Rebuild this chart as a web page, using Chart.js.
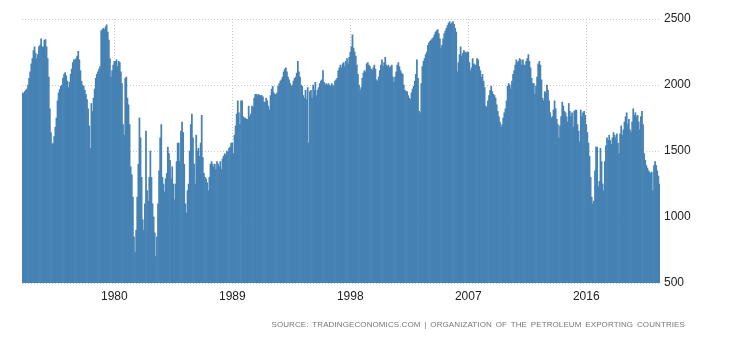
<!DOCTYPE html>
<html>
<head>
<meta charset="utf-8">
<script src="https://cdn.jsdelivr.net/npm/chart.js@4"></script>
<style>
  body { margin: 0; background: #fff; }
  #wrap { position: relative; width: 730px; height: 340px; }
  #source {
    position: absolute;
    right: 45px;
    top: 320px;
    font: 8px "Liberation Sans", Arial, sans-serif;
    color: #777;
    letter-spacing: 0.1px;
    word-spacing: 1.5px;
    white-space: pre;
  }
</style>
</head>
<body>
<div id="wrap">
  <canvas id="chart" width="730" height="340"></canvas>
  <div id="source">SOURCE: TRADINGECONOMICS.COM | ORGANIZATION OF THE PETROLEUM EXPORTING COUNTRIES</div>
</div>
<script>
/* ================================
   Data (monthly, Jan 1973 - Aug 2021)
================================ */
const START_YEAR = 1973;
const tickYears = [1980, 1989, 1998, 2007, 2016];
const yTicks = [500, 1000, 1500, 2000, 2500];

const output1970s = [
  1940, 1935, 1950, 1960, 1970, 2000, 2050, 2100, 2160, 2200, 2260, 2290,
  2240, 2200, 2230, 2290, 2300, 2350, 2290, 2290, 2340, 2345, 2290, 2200,
  2060, 1820, 1640, 1550, 1560, 1610, 1680, 1750, 1880, 1940, 1965, 1990,
  2000, 2050, 2080, 2095, 2070, 2030, 1980, 2020, 2080, 2120, 2170, 2190,
  2190, 2200, 2220, 2255, 2190, 2110, 2030, 2000, 1990, 1960, 1930, 1890,
  1820, 1690, 1520, 1860, 1800, 1900, 1970, 2050, 2080, 2100, 2120, 2140,
  2410, 2420, 2430, 2420, 2440, 2455, 2400, 2340, 2200, 2060, 2110, 2150
];

const output1980s = [
  2180, 2180, 2190, 2140, 2180, 2170, 2100, 2010, 1700, 1620, 2050, 2060,
  1900, 1850, 1700, 1380, 1320, 1150, 850, 730, 900, 1150, 1400, 1750,
  1600, 1300, 980, 900, 1100, 1650, 1200, 1120, 1300, 1500, 1300, 1100,
  1000, 880, 700, 850, 1100, 1350, 1600, 1700, 1300, 1250, 1190, 1290,
  1330, 1530, 1480, 1430, 1290, 1380, 1250, 1130, 1250, 1420, 1560, 1560,
  1420, 1650, 1720, 1640, 1400, 1100, 1030, 1200, 1250, 1500, 1700, 1780,
  1600, 1400, 1250, 1620, 1500, 1520, 1460, 1560, 1770, 1450, 1330, 1300,
  1290, 1260, 1200, 1300, 1400, 1420, 1400, 1380, 1400, 1360, 1420, 1400,
  1380, 1420, 1360, 1440, 1460, 1480, 1470, 1500, 1490, 1520, 1530, 1560,
  1560, 1480, 1620, 1690, 1780, 1880, 1790, 1700, 1880, 1880, 1760, 1750
];

const output1990s = [
  1750, 1740, 1740, 1840, 1760, 1780, 1840, 1830, 1900, 1930, 1930, 1920,
  1930, 1920, 1920, 1920, 1910, 1870, 1870, 1900, 1880, 1840, 1810, 1920,
  1970, 1990, 1940, 1930, 1930, 1940, 1990, 2010, 2030, 2040, 2060, 2100,
  2120, 2130, 2100, 2060, 2040, 2010, 1990, 2000, 2030, 2050, 2060, 2090,
  2180, 2100, 2060, 2000, 1990, 1920, 1900, 1960, 1890, 1980, 1560, 1950,
  1960, 1900, 2000, 1960, 2020, 1920, 1960, 1980, 2010, 2030, 2040, 2110,
  2020, 2000, 2010, 2000, 2010, 2000, 1990, 2010, 2000, 1990, 2030, 2040,
  2050, 2110, 2130, 2150, 2130, 2160, 2170, 2140, 2180, 2200, 2160, 2210,
  2250, 2290, 2380, 2280, 2250, 2220, 2150, 2080, 2000, 1960, 1980, 2050,
  2090, 2110, 2100, 2160, 2170, 2150, 2140, 2120, 2110, 2130, 2150, 2120
];

const output2000s = [
  2040, 2030, 2060, 2110, 2150, 2190, 2140, 2170, 2210, 2150, 2140, 2150,
  2130, 2140, 2150, 2060, 2020, 2060, 2100, 2150, 2170, 2140, 2110, 2090,
  2080, 2000, 1960, 1950, 1950, 1920, 1900, 1890, 1940, 1970, 1990, 2030,
  2080, 2190, 2050, 1800, 1790, 2010, 2140, 2180, 2200, 2230, 2250, 2300,
  2320, 2330, 2340, 2350, 2360, 2380, 2400, 2410, 2420, 2390, 2350, 2280,
  2300, 2350, 2390, 2410, 2430, 2450, 2470, 2480, 2460, 2470, 2480, 2460,
  2430, 2400, 2100, 2170, 2230, 2290, 2220, 2240, 2260, 2250, 2240, 2250,
  2250, 2170, 2110, 2130, 2200, 2160, 2150, 2150, 2200, 2190, 2140, 2110,
  2060, 2080, 2030, 1980, 1840, 1830, 1880, 1920, 1960, 1990, 1950, 1930,
  1920, 1900, 1850, 1800, 1760, 1720, 1680, 1700, 1750, 1790, 1820, 1880
];

const output2010s = [
  1990, 2010, 2000, 1970, 2030, 2080, 2110, 2150, 2190, 2170, 2180, 2200,
  2190, 2150, 2190, 2150, 2150, 2180, 2200, 2230, 2180, 2130, 2050, 2010,
  2010, 1930, 1990, 2060, 2160, 2180, 2150, 2040, 1900, 1880, 1950, 1940,
  2000, 1960, 1880, 1790, 1750, 1760, 1810, 1880, 1820, 1740, 1700, 1600,
  1690, 1760, 1870, 1840, 1800, 1790, 1760, 1720, 1860, 1800, 1760, 1790,
  1680, 1800, 1810, 1810, 1700, 1650, 1570, 1810, 1760, 1790, 1800, 1770,
  1700, 1640, 1560, 1460, 1300, 1150, 1100, 1120, 1350, 1530, 1530, 1230,
  1270, 1520, 1420, 1250, 1200, 1420, 1540, 1600, 1580, 1620, 1580, 1550,
  1600, 1640, 1620, 1600, 1630, 1560, 1480, 1630, 1690, 1620, 1660, 1720,
  1760, 1790, 1700, 1740, 1660, 1640, 1720, 1820, 1770, 1790, 1760, 1770
];

const output2020s = [
  1720, 1660, 1760, 1800, 1700, 1480, 1430, 1390, 1370, 1350, 1340, 1330,
  1340, 1200, 1390, 1420, 1390, 1350, 1310, 1250
];

/* ================================
   Build series + labels
================================ */
const values = [
  ...output1970s, ...output1980s, ...output1990s,
  ...output2000s, ...output2010s, ...output2020s
];

const labels = values.map((_, i) => {
  const year = START_YEAR + Math.floor(i / 12);
  const month = String((i % 12) + 1).padStart(2, "0");
  return `${year}-${month}`;
});

const gridColor = "#c8c8c8";
const tickFont = { family: "'Liberation Sans', Arial, sans-serif", size: 12 };

/* ================================
   Chart
================================ */
new Chart(document.getElementById("chart"), {
  type: "bar",
  data: {
    labels,
    datasets: [
      {
        data: values,
        backgroundColor: "#4682b4",
        borderWidth: 0,
        barPercentage: 1,
        categoryPercentage: 1
      }
    ]
  },
  options: {
    responsive: false,
    animation: false,
    layout: { padding: { left: 22, top: 19, right: 0, bottom: 0 } },
    plugins: {
      legend: { display: false },
      tooltip: { enabled: false }
    },
    scales: {
      x: {
        grid: {
          offset: false,
          color: gridColor,
          drawTicks: false
        },
        border: { display: false, dash: [1, 2] },
        ticks: {
          autoSkip: false,
          maxRotation: 0,
          padding: 6,
          color: "#222",
          font: tickFont,
          callback: function (value) {
            return this.getLabelForValue(value).slice(0, 4);
          }
        },
        afterBuildTicks: scale => {
          scale.ticks = scale.ticks.filter(t => {
            const lab = labels[t.value];
            return lab.endsWith("-01") && tickYears.includes(Number(lab.slice(0, 4)));
          });
        },
        afterFit: scale => { scale.height = 57; }
      },
      y: {
        position: "right",
        min: 500,
        max: 2500,
        grid: {
          color: gridColor,
          drawTicks: false
        },
        border: { display: false, dash: [1, 2] },
        ticks: {
          padding: 4,
          color: "#222",
          font: tickFont,
          callback: value => String(value)
        },
        afterBuildTicks: scale => {
          scale.ticks = yTicks.map(v => ({ value: v }));
        },
        afterFit: scale => { scale.width = 70; }
      }
    }
  }
});
</script>
</body>
</html>
